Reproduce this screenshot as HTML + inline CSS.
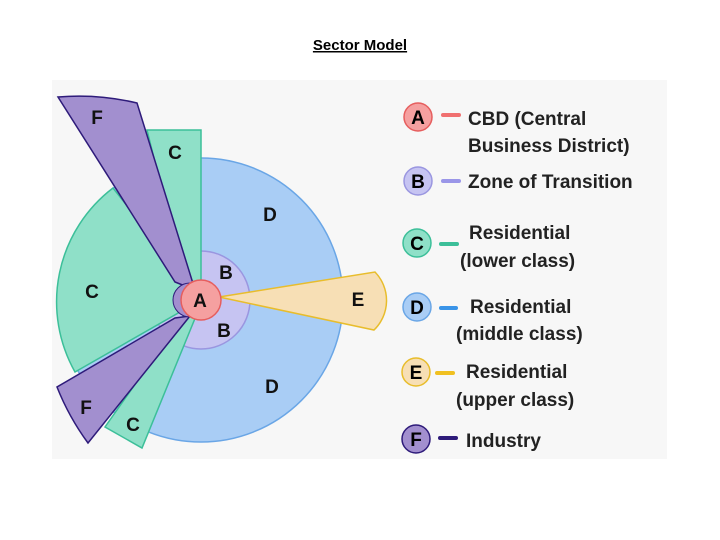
<!DOCTYPE html>
<html><head><meta charset="utf-8"><style>
html,body{margin:0;padding:0;background:#fff;width:720px;height:540px;overflow:hidden}
</style></head><body>
<svg width="720" height="540" xmlns="http://www.w3.org/2000/svg" font-family="Liberation Sans, Arial, sans-serif">
<text x="360" y="50" text-anchor="middle" font-size="15" font-weight="bold" text-decoration="underline">Sector Model</text>
<rect x="52" y="80" width="615" height="379" fill="#f7f7f7"/>
<circle cx="201" cy="300" r="142" fill="#a9cdf5" stroke="#6aa6e6" stroke-width="1.5"/>
<circle cx="201" cy="300" r="49" fill="#c6c4f2" stroke="#9a96e0" stroke-width="1.5"/>
<path d="M201,300 L113,188 A143,143 0 0 0 75,372 Z" fill="#8fe0c8" stroke="#3cbf99" stroke-width="1.5"/>
<path d="M201,300 L201,130 L147,130 L188,295 Z" fill="#8fe0c8" stroke="#3cbf99" stroke-width="1.5"/>
<path d="M196,316 L142,448 L105,427 L186,312 Z" fill="#8fe0c8" stroke="#3cbf99" stroke-width="1.5"/>
<path d="M195,290 L175,282 L58,97 A248,248 0 0 1 137,103 Z" fill="#a28fcf" stroke="#2e1b7a" stroke-width="1.5"/>
<path d="M190,316 L88,443 A250,250 0 0 1 57,387 L175,318 Z" fill="#a28fcf" stroke="#2e1b7a" stroke-width="1.5"/>
<circle cx="190" cy="300" r="17" fill="#a28fcf" stroke="#2e1b7a" stroke-width="1"/>
<path d="M219,297 L375,272 A41,41 0 0 1 374,330 Z" fill="#f7dfb5" stroke="#e8bd2c" stroke-width="1.5"/>
<circle cx="201" cy="300" r="20" fill="#f5a0a0" stroke="#e65e5e" stroke-width="1.5"/>
<g font-size="19" font-weight="bold" text-anchor="middle" fill="#111">
<text x="97" y="124">F</text><text x="175" y="159">C</text><text x="270" y="221">D</text>
<text x="226" y="279">B</text><text x="92" y="298">C</text><text x="200" y="307">A</text>
<text x="358" y="306">E</text><text x="224" y="337">B</text><text x="272" y="393">D</text>
<text x="86" y="414">F</text><text x="133" y="431">C</text>
</g>
<g stroke-width="1.5" font-size="19" font-weight="bold" text-anchor="middle">
<circle cx="418" cy="117" r="14" fill="#f5a0a0" stroke="#e65e5e"/><text x="418" y="124">A</text>
<circle cx="418" cy="181" r="14" fill="#c6c4f2" stroke="#9a96e0"/><text x="418" y="188">B</text>
<circle cx="417" cy="243" r="14" fill="#8fe0c8" stroke="#3cbf99"/><text x="417" y="250">C</text>
<circle cx="417" cy="307" r="14" fill="#a9cdf5" stroke="#6aa6e6"/><text x="417" y="314">D</text>
<circle cx="416" cy="372" r="14" fill="#f7dfb5" stroke="#e8bd2c"/><text x="416" y="379">E</text>
<circle cx="416" cy="439" r="14" fill="#a28fcf" stroke="#2e1b7a"/><text x="416" y="446">F</text>
</g>
<g stroke-width="4" stroke-linecap="round">
<line x1="443" y1="115" x2="459" y2="115" stroke="#f07070"/>
<line x1="443" y1="181" x2="459" y2="181" stroke="#9a96e8"/>
<line x1="441" y1="244" x2="457" y2="244" stroke="#3cbf99"/>
<line x1="441" y1="308" x2="456" y2="308" stroke="#3a94e8"/>
<line x1="437" y1="373" x2="453" y2="373" stroke="#f0c020"/>
<line x1="440" y1="438" x2="456" y2="438" stroke="#2e1b7a"/>
</g>
<g font-size="19" font-weight="bold" fill="#222">
<text x="468" y="125">CBD (Central</text>
<text x="468" y="152">Business District)</text>
<text x="468" y="188">Zone of Transition</text>
<text x="469" y="239">Residential</text>
<text x="460" y="267">(lower class)</text>
<text x="470" y="313">Residential</text>
<text x="456" y="340">(middle class)</text>
<text x="466" y="378">Residential</text>
<text x="456" y="406">(upper class)</text>
<text x="466" y="447">Industry</text>
</g>
</svg>
</body></html>
